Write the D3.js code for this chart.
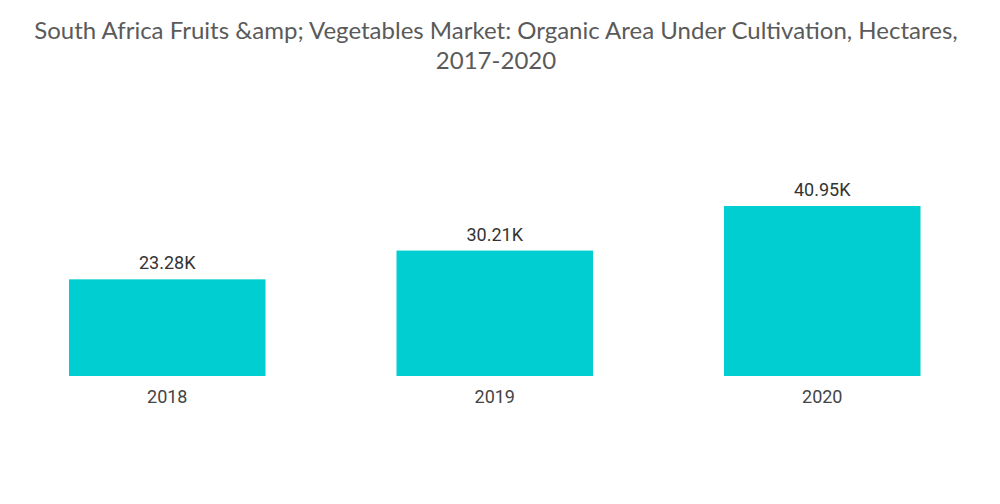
<!DOCTYPE html>
<html>
<head>
<meta charset="utf-8">
<script src="https://cdn.jsdelivr.net/npm/d3@7"></script>
<style>
  body { margin: 0; background: #fff; }
</style>
</head>
<body>
<div id="container"></div>
<script>
let w = 1000;
let h = 504;

// data
let years = ["2018", "2019", "2020"];
let hectares = [23.28, 30.21, 40.95]; // thousands
let valueLabels = ["23.28K", "30.21K", "40.95K"];
let titleLines = [
  "South Africa Fruits &amp; Vegetables Market: Organic Area Under Cultivation, Hectares,",
  "2017-2020"
];

let viz = d3.select("#container")
  .append("svg")
    .attr("width", w)
    .attr("height", h)
;

// title
viz.append("g").selectAll("text")
  .data(titleLines)
  .enter()
  .append("text")
    .attr("x", 496)
    .attr("y", (d, i) => 39 + i * 30)
    .attr("text-anchor", "middle")
    .attr("font-family", "Lato, 'Open Sans', sans-serif")
    .attr("font-size", 24)
    .attr("fill", "#5a5a5a")
    .text(d => d);

// scales
let baseY = 376;
let xScale = d3.scaleBand().domain(years).range([3.5, 986]).paddingInner(0.4).paddingOuter(0.2);
let yScale = d3.scaleLinear().domain([0, 40.95]).range([baseY, 206]);

// x axis (labels only)
let xAxis = d3.axisBottom(xScale).tickSize(0).tickPadding(14);
let xAxisGroup = viz.append("g").attr("class", "xaxis")
  .attr("transform", "translate(0, " + baseY + ")")
  .call(xAxis);
xAxisGroup.select(".domain").remove();
xAxisGroup.selectAll("text")
  .attr("font-family", "Roboto, sans-serif")
  .attr("font-size", 18)
  .attr("fill", "#444");

// bars
let graphGroup = viz.append("g").classed("graphGroup", true);
graphGroup.selectAll(".bar")
  .data(hectares)
  .enter()
  .append("rect")
    .attr("class", "bar")
    .attr("x", (d, i) => xScale(years[i]))
    .attr("y", d => yScale(d))
    .attr("width", xScale.bandwidth())
    .attr("height", d => baseY - yScale(d))
    .attr("fill", "#00ced1");

graphGroup.selectAll(".lbl")
  .data(hectares)
  .enter()
  .append("text")
    .attr("class", "lbl")
    .attr("x", (d, i) => xScale(years[i]) + xScale.bandwidth() / 2)
    .attr("y", d => yScale(d) - 10)
    .attr("text-anchor", "middle")
    .attr("font-family", "Roboto, sans-serif")
    .attr("font-size", 18)
    .attr("fill", "#333")
    .text((d, i) => valueLabels[i]);
</script>
</body>
</html>
